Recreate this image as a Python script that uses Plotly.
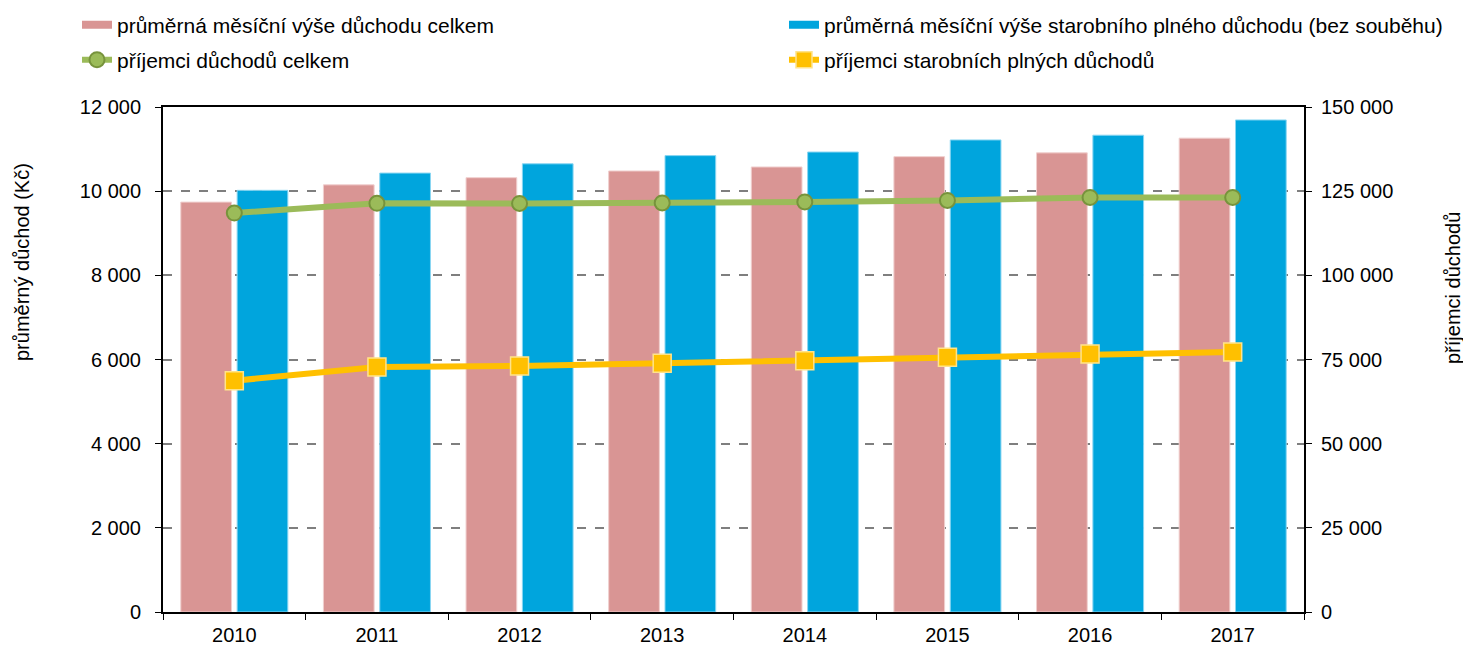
import plotly.graph_objects as go

years = ["2010", "2011", "2012", "2013", "2014", "2015", "2016", "2017"]
avg_total = [9740, 10150, 10320, 10480, 10575, 10820, 10910, 11260]
avg_oldage = [10020, 10430, 10650, 10845, 10930, 11217, 11330, 11692]
recip_total = [118500, 121400, 121350, 121500, 121800, 122250, 123150, 123150]
recip_oldage = [68700, 72800, 73100, 73900, 74600, 75700, 76600, 77200]

name_avg_total = "průměrná měsíční výše důchodu celkem"
name_avg_oldage = "průměrná měsíční výše starobního plného důchodu (bez souběhu)"
name_recip_total = "příjemci důchodů celkem"
name_recip_oldage = "příjemci starobních plných důchodů"

left_ticks = [0, 2000, 4000, 6000, 8000, 10000, 12000]
right_ticks = [0, 25000, 50000, 75000, 100000, 125000, 150000]

PINK = "#D99594"
BLUE = "#00A5DD"
GREEN = "#9BBB59"
GREEN_D = "#77933C"
YELLOW = "#FFC000"
FONT = "Liberation Sans, Arial, sans-serif"
FS = 20
FS_LEG = 21

W, H = 1463, 646

fig = go.Figure()
fig.add_trace(go.Bar(x=years, y=avg_total, name=name_avg_total, marker=dict(color=PINK, line=dict(color="#F0CFCE", width=1)),
                     showlegend=False, yaxis="y"))
fig.add_trace(go.Bar(x=years, y=avg_oldage, name=name_avg_oldage, marker=dict(color=BLUE, line=dict(color="#8AD6F2", width=1)),
                     showlegend=False, yaxis="y"))
fig.add_trace(go.Scatter(x=years, y=recip_total, name=name_recip_total, yaxis="y2", mode="lines+markers",
                         line=dict(color=GREEN, width=6),
                         marker=dict(symbol="circle", size=15, color=GREEN, line=dict(color=GREEN_D, width=2)),
                         legend="legend3"))
fig.add_trace(go.Scatter(x=years, y=recip_oldage, name=name_recip_oldage, yaxis="y2", mode="lines+markers",
                         line=dict(color=YELLOW, width=6),
                         marker=dict(symbol="square", size=18, color=YELLOW, line=dict(color="#FFE38A", width=1.5)),
                         legend="legend4"))
# legend proxies for the bar series
fig.add_trace(go.Scatter(x=[None], y=[None], name=name_avg_total, mode="lines",
                         line=dict(color=PINK, width=8), legend="legend", yaxis="y"))
fig.add_trace(go.Scatter(x=[None], y=[None], name=name_avg_oldage, mode="lines",
                         line=dict(color=BLUE, width=8), legend="legend2", yaxis="y"))


def px_x(p):
    return (p - 163) / 1141.0


def px_y(p):
    return (612 - p) / 505.0


def cx(p):
    return p / W


def cy(p):
    return (H - p) / H


leg_common = dict(font=dict(family=FONT, size=FS_LEG, color="#000"), bgcolor="rgba(0,0,0,0)",
                  xref="container", yref="container",
                  xanchor="left", yanchor="middle", itemwidth=30, borderwidth=0)

tf = dict(family=FONT, size=FS, color="#000")

fig.update_layout(
    width=W, height=H,
    margin=dict(l=163, r=159, t=107, b=34, autoexpand=False),
    paper_bgcolor="white", plot_bgcolor="white",
    separators=", ",
    barmode="group", bargap=0.21, bargroupgap=0.1,
    font=dict(family=FONT, size=FS, color="#000"),
    legend=dict(x=cx(77), y=cy(25), **leg_common),
    legend2=dict(x=cx(784), y=cy(25), **leg_common),
    legend3=dict(x=cx(77), y=cy(60), **leg_common),
    legend4=dict(x=cx(784), y=cy(60), **leg_common),
    xaxis=dict(type="category", range=[-0.5, 7.5], showline=True, linecolor="#000", linewidth=2, mirror=True,
               ticks="outside", tickson="boundaries", ticklen=6, tickcolor="#000", tickwidth=1,
               showgrid=False, tickfont=tf, automargin=False, ticklabelstandoff=4),
    yaxis=dict(range=[0, 12000], tickvals=left_ticks, tickformat=",", showline=True, linecolor="#000", linewidth=2,
               ticks="outside", ticklen=6, tickcolor="#000", showgrid=True, gridcolor="#7F7F7F", griddash="dash",
               gridwidth=1.5, zeroline=False, tickfont=tf, automargin=False, ticklabelstandoff=10),
    yaxis2=dict(range=[0, 150000], tickvals=right_ticks, tickformat=",", overlaying="y", side="right",
                showline=True, linecolor="#000", linewidth=2, ticks="outside", ticklen=6, tickcolor="#000",
                showgrid=False, zeroline=False, tickfont=tf, automargin=False, ticklabelstandoff=5),
    annotations=[
        dict(text="průměrný důchod (Kč)", textangle=-90, xref="paper", yref="paper", x=px_x(22), y=px_y(262),
             showarrow=False, font=tf, xanchor="center", yanchor="middle"),
        dict(text="příjemci důchodů", textangle=-90, xref="paper", yref="paper", x=px_x(1453), y=px_y(288),
             showarrow=False, font=tf, xanchor="center", yanchor="middle"),
    ],
)

fig.write_html("out.html", config={"displayModeBar": False},
               post_script="document.body.style.margin='0';document.body.style.overflow='hidden';")
